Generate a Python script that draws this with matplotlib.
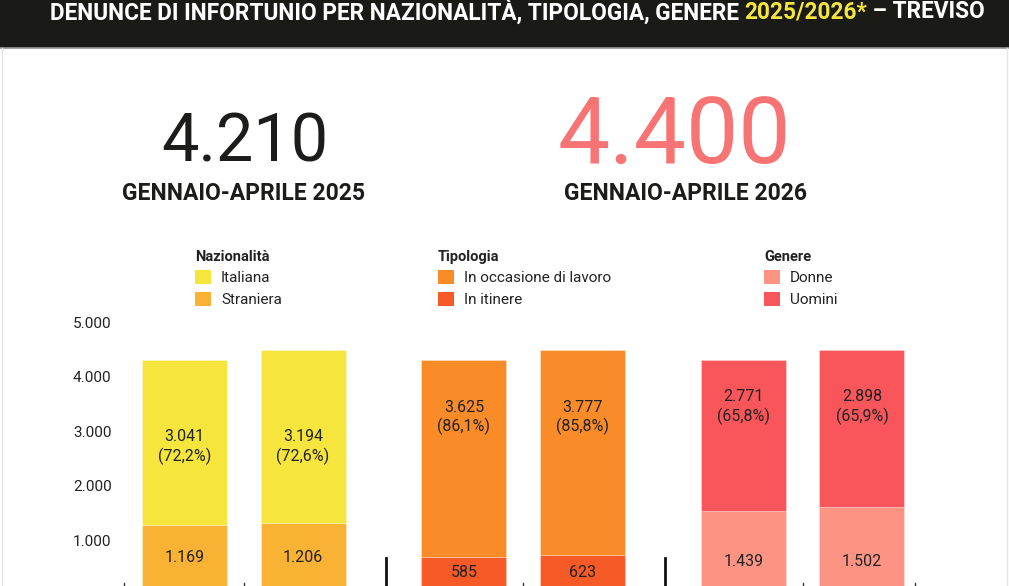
import matplotlib
matplotlib.use('Agg')
import matplotlib.pyplot as plt
from matplotlib.patches import Patch, Rectangle

# --- data ---
anni = ['GENNAIO-APRILE 2025', 'GENNAIO-APRILE 2026']
totali = [4210, 4400]
gruppi = ['Nazionalità', 'Tipologia', 'Genere']
serie_basse = ['Straniera', 'In itinere', 'Donne']
serie_alte = ['Italiana', 'In occasione di lavoro', 'Uomini']
valori_bassi = [[1169, 1206], [585, 623], [1439, 1502]]
valori_alti = [[3041, 3194], [3625, 3777], [2771, 2898]]
perc_alti = [['72,2%', '72,6%'], ['86,1%', '85,8%'], ['65,8%', '65,9%']]
yticks = [1000, 2000, 3000, 4000, 5000]

# --- style ---
col_basse = ['#f9b233', '#f65a27', '#fd9483']
col_alte = ['#f6e53d', '#f98c29', '#f8565a']
legend_order = [['alta', 'bassa'], ['alta', 'bassa'], ['bassa', 'alta']]
label_y_alte = [2610, 3150, 3345]
label_y_basse = [570, 295, 500]
legend_pos = [(195, 250), (438, 250), (764, 250)]
DARK = '#1c1c1a'
RED = '#f87474'

plt.rcParams['font.family'] = ['Roboto', 'DejaVu Sans']

W, H = 1009, 586
fig = plt.figure(figsize=(W / 100, H / 100), dpi=100)
fig.patch.set_facecolor('white')

def fx(px):
    return px / W

def fy(py):
    return (H - py) / H

bg = fig.add_axes([0, 0, 1, 1])
bg.set_xlim(0, 1)
bg.set_ylim(0, 1)
bg.axis('off')
bg.add_patch(Rectangle((0, fy(47)), 1, 1 - fy(47), color='#1a1a17', zorder=0))
bg.plot([0, 1], [fy(47.5), fy(47.5)], color='#9a9a9a', lw=1.2)
bg.plot([fx(2), fx(2)], [0, fy(48)], color='#e4e4e4', lw=1)
bg.plot([fx(1007), fx(1007)], [0, fy(48)], color='#e4e4e4', lw=1)

# title in three pieces, scaled to span ~50..985 px
tprops = dict(fontsize=17, fontweight='bold',
              family=['Liberation Sans Narrow', 'Roboto', 'DejaVu Sans'], va='center')
t1 = bg.text(fx(50), fy(12), 'DENUNCE DI INFORTUNIO PER NAZIONALITÀ, TIPOLOGIA, GENERE ',
             color='white', ha='left', **tprops)
t2 = bg.annotate('2025/2026*', xy=(1, 0.5), xycoords=t1, color='#f6e53d',
                 ha='left', **tprops)
t3 = bg.annotate(' – TREVISO', xy=(1, 0.5), xycoords=t2, color='white',
                 ha='left', **tprops)
fig.canvas.draw()
r = fig.canvas.get_renderer()
larg = t3.get_window_extent(r).x1 - t1.get_window_extent(r).x0
scala = 935 / larg
for t in (t1, t2, t3):
    t.set_fontsize(17 * scala)

# big totals
fmt = lambda v: f'{v:,}'.replace(',', '.')
bg.text(fx(245), fy(144), fmt(totali[0]), fontsize=48,
        color=DARK, ha='center', va='center')
bg.text(fx(674), fy(137), fmt(totali[1]), fontsize=67,
        color=RED, ha='center', va='center')
bg.text(fx(244), fy(193), anni[0], fontsize=16.5, fontweight='bold',
        color=DARK, ha='center', va='center')
bg.text(fx(685), fy(194), anni[1], fontsize=16.5, fontweight='bold',
        color=DARK, ha='center', va='center')

# --- bars ---
ax = fig.add_axes([fx(124), (H - 589) / H, fx(915) - fx(124), 272 / H])
ax.set_xlim(-0.508, 6.13)
ax.set_ylim(0, 5000)
centri = [0.4975, 2.8425, 5.1875]
off = 0.4975
bw = 0.713

for g in range(3):
    for i in range(2):
        x = centri[g] + (i * 2 - 1) * off
        lo = valori_bassi[g][i]
        hi = valori_alti[g][i]
        ax.bar(x, lo, width=bw, color=col_basse[g], edgecolor='#ffffff55', lw=0.6)
        ax.bar(x, hi, bottom=lo, width=bw, color=col_alte[g], edgecolor='#ffffff55', lw=0.6)
        ax.text(x, label_y_alte[g], f'{fmt(hi)}\n({perc_alti[g][i]})', ha='center',
                va='center', fontsize=11.5, color='#222222', linespacing=1.25)
        ax.text(x, label_y_basse[g], fmt(lo), ha='center', va='center',
                fontsize=11.5, color='#222222')

# separators and small ticks
for s in [(centri[0] + centri[1]) / 2, (centri[1] + centri[2]) / 2]:
    ax.plot([s + 0.02, s + 0.02], [0, 570], color='#111111', lw=2, clip_on=False)
for t in [-0.508] + centri + [6.13]:
    ax.plot([t, t], [0, 110], color='#333333', lw=1, clip_on=False)

ax.set_yticks(yticks)
ax.set_yticklabels([fmt(v) for v in yticks], fontsize=11, color='#222222', va='top')
ax.tick_params(axis='y', length=0, pad=9)
ax.set_xticks([])
for sp in ax.spines.values():
    sp.set_visible(False)

# legends
for g in range(3):
    handles = []
    for k in legend_order[g]:
        if k == 'alta':
            handles.append(Patch(facecolor=col_alte[g], label=serie_alte[g]))
        else:
            handles.append(Patch(facecolor=col_basse[g], label=serie_basse[g]))
    leg = fig.legend(handles=handles, title=gruppi[g], loc='upper left',
                     bbox_to_anchor=(fx(legend_pos[g][0]), fy(legend_pos[g][1])),
                     frameon=False, fontsize=11, borderpad=0, borderaxespad=0,
                     handlelength=1.05, handleheight=1.05, handletextpad=0.65,
                     labelspacing=0.4, alignment='left',
                     title_fontproperties={'weight': 'bold', 'size': 10.5})
    for txt in leg.get_texts():
        txt.set_color('#222222')
    leg.get_title().set_color('#222222')

fig.savefig('out.png', dpi=100, facecolor='white')
